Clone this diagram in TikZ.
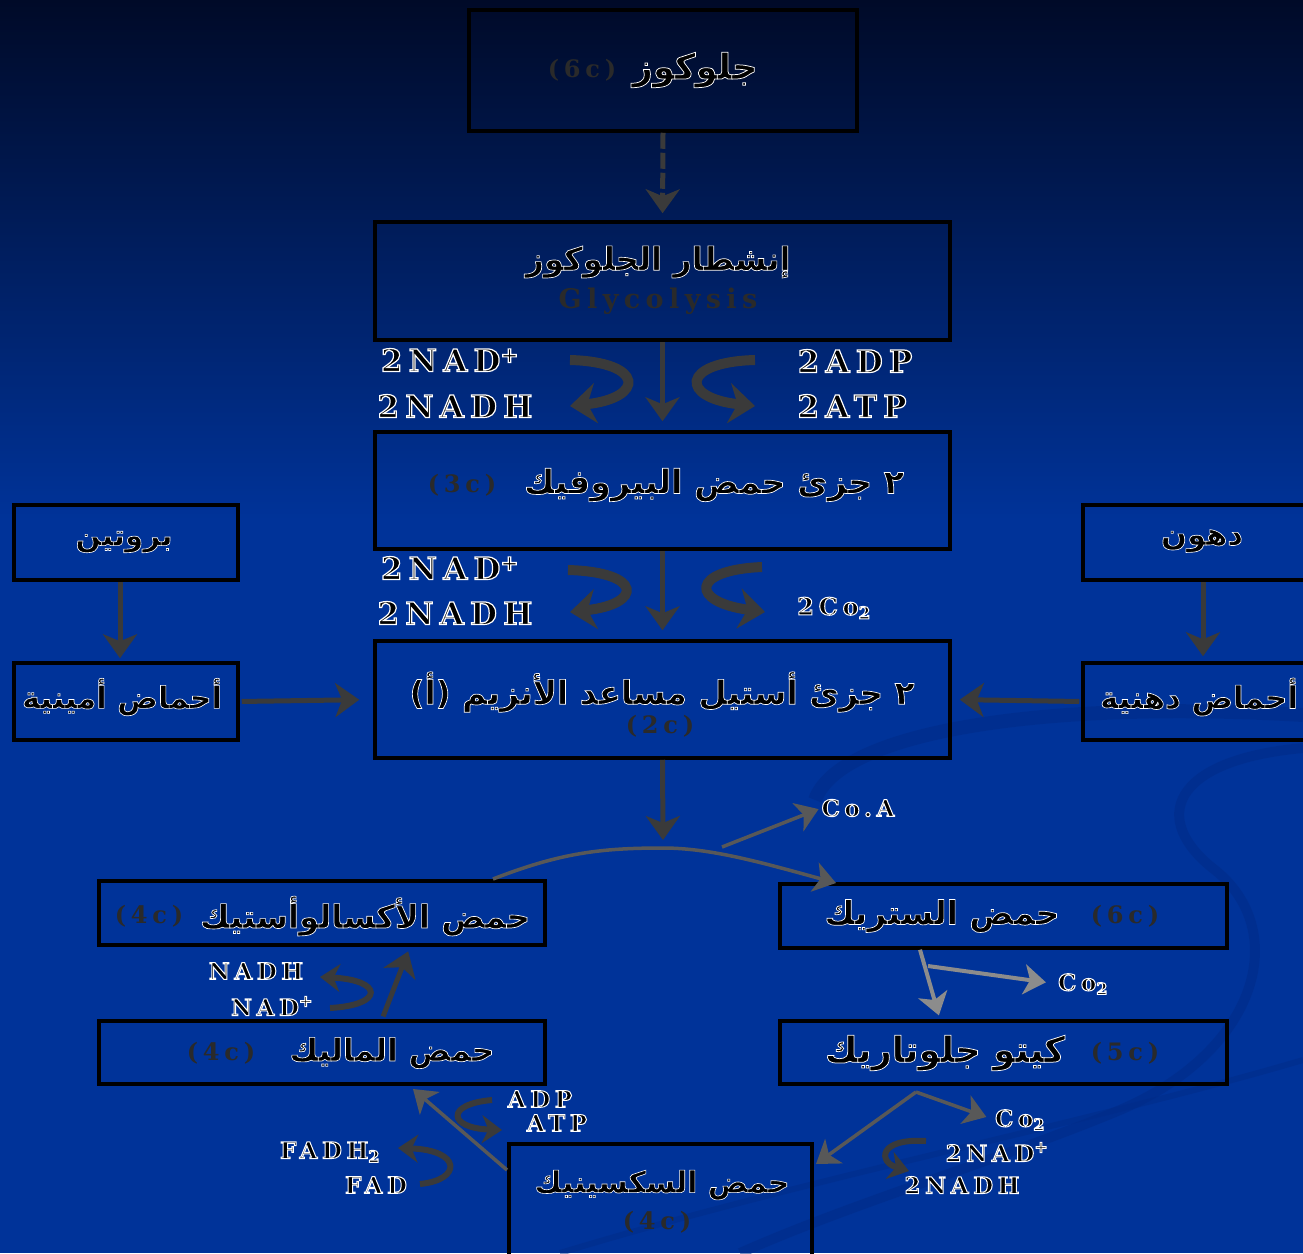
\documentclass[tikz,border=0pt]{standalone}
\usepackage{fontspec}
\usepackage{graphicx}
\usetikzlibrary{arrows.meta}
\TeXXeTstate=1
\newfontfamily\arfont[Script=Arabic]{DejaVu Sans}
\newfontfamily\latw[LetterSpace=20]{DejaVu Serif}
\definecolor{bgblue}{RGB}{0,51,153}
\definecolor{bgtop}{RGB}{0,10,40}
\definecolor{swooshc}{RGB}{0,43,135}
\definecolor{arrgray}{RGB}{58,58,58}
\definecolor{lightarr}{RGB}{140,140,140}
\definecolor{numgray}{RGB}{42,42,42}
\newcommand{\olt}[2]{\special{pdf:literal direct 2 Tr #1 w 1 1 1 RG}#2\special{pdf:literal direct 0 Tr}}
\newcommand{\artext}[2]{\resizebox{#1}{!}{\fontsize{24}{24}\selectfont\olt{0.5}{\arfont\bfseries #2}}}
\begin{document}
\begin{tikzpicture}[x=1pt,y=-1pt,
  box/.style={draw=black,line width=3.5pt,inner sep=0pt},
  conn/.style={draw=arrgray,line width=5pt,-{Stealth[width=34pt,length=24pt,inset=7pt]}},
  arcline/.style={draw=arrgray!85!white,line width=3.5pt},
  arctip/.style={arcline,-{Stealth[width=30pt,length=22pt,inset=6pt]}},
  lightconn/.style={draw=lightarr,line width=4pt,-{Stealth[width=30pt,length=22pt,inset=6pt]}},
  curvy/.style={draw=arrgray,line width=10pt,-{Stealth[width=40pt,length=26pt]}},
  smallcurvy/.style={draw=arrgray,line width=6pt,-{Stealth[width=28pt,length=20pt]}},
  lbl/.style={inner sep=0pt,text=black,font=\latw\bfseries\fontsize{31}{31}\selectfont},
  slbl/.style={inner sep=0pt,text=black,font=\latw\bfseries\fontsize{23}{23}\selectfont},
  num/.style={inner sep=0pt,text=numgray,font=\latw\bfseries\fontsize{24}{24}\selectfont},
  artx/.style={inner sep=0pt,text=black},
]
\useasboundingbox (0,0) rectangle (1303,1253);
% background
\shade[top color=bgtop,bottom color=bgblue] (0,0) rectangle (1303,520);
\fill[bgblue] (0,519) rectangle (1303,1253);
\draw[swooshc,line width=14pt,opacity=0.5] (815,800) .. controls (840,730) and (1050,700) .. (1303,715);
\draw[swooshc,line width=10pt,opacity=0.5] (1303,748) .. controls (1170,760) and (1150,820) .. (1215,870) .. controls (1290,930) and (1260,1050) .. (1120,1110) .. controls (1000,1160) and (860,1200) .. (740,1253);
\draw[swooshc,line width=6pt,opacity=0.45] (560,1253) .. controls (800,1180) and (1100,1120) .. (1303,1060);

% boxes
\node[box,minimum width=388pt,minimum height=121pt] (glc) at (663,70.5) {};
\node[box,minimum width=575pt,minimum height=118pt] (gly) at (662.5,281) {};
\node[box,minimum width=575pt,minimum height=117pt] (pyr) at (662.5,490.5) {};
\node[box,minimum width=575pt,minimum height=117pt] (acet) at (662.5,699.5) {};
\node[box,minimum width=224pt,minimum height=75pt] (prot) at (126,542.5) {};
\node[box,minimum width=224pt,minimum height=77pt] (amino) at (126,701.5) {};
\node[box,minimum width=237pt,minimum height=75pt] (fat) at (1201.5,542.5) {};
\node[box,minimum width=237pt,minimum height=77pt] (fatac) at (1201.5,701.5) {};
\node[box,minimum width=446pt,minimum height=64pt] (oxa) at (322,913) {};
\node[box,minimum width=447pt,minimum height=64pt] (cit) at (1003.5,916) {};
\node[box,minimum width=447pt,minimum height=63pt] (keto) at (1003.5,1052.5) {};
\node[box,minimum width=446pt,minimum height=63pt] (mal) at (322,1052.5) {};
\node[box,minimum width=303pt,minimum height=121pt] (suc) at (660.5,1204.5) {};

% box texts
\node[artx] (tglc) at (695,70) {\artext{125pt}{\beginR جلوكوز\endR}};
\node[num] (nglc) at (582,70) {(6c)};
\node[artx] (tgly) at (658,262) {\artext{265pt}{\beginR إنشطار الجلوكوز\endR}};
\node[num,font=\latw\bfseries\fontsize{27}{27}\selectfont] (ngly) at (658,301) {Glycolysis};
\node[artx] (tpyr) at (714,485) {\artext{380pt}{\beginR ٢ جزئ حمض البيروفيك\endR}};
\node[num] (npyr) at (462,485) {(3c)};
\node[artx] (tacet) at (662,692) {\artext{505pt}{\beginR ٢ جزئ أستيل مساعد الأنزيم \beginL(أ)\endL\endR}};
\node[num] (nacet) at (660,726) {(2c)};
\node[artx] (tprot) at (124,542) {\artext{97pt}{\beginR بروتين\endR}};
\node[artx] (tamino) at (122,697) {\artext{200pt}{\beginR أحماض أمينية\endR}};
\node[artx] (tfat) at (1202,541) {\artext{82pt}{\beginR دهون\endR}};
\node[artx] (tfatac) at (1199,697) {\artext{198pt}{\beginR أحماض دهنية\endR}};
\node[artx] (toxa) at (365,916) {\artext{330pt}{\beginR حمض الأكسالوأستيك\endR}};
\node[num] (noxa) at (149,916) {(4c)};
\node[artx] (tcit) at (942,916) {\artext{235pt}{\beginR حمض الستريك\endR}};
\node[num] (ncit) at (1125,916) {(6c)};
\node[artx] (tketo) at (945,1053) {\artext{240pt}{\beginR كيتو جلوتاريك\endR}};
\node[num] (nketo) at (1125,1053) {(5c)};
\node[artx] (tmal) at (392,1053) {\artext{205pt}{\beginR حمض الماليك\endR}};
\node[num] (nmal) at (221,1053) {(4c)};
\node[artx] (tsuc) at (662,1185) {\artext{255pt}{\beginR حمض السكسينيك\endR}};
\node[num] (nsuc) at (657,1222) {(4c)};

% labels
\node[lbl] (l1) at (450,360) {\olt{1.2}{2NAD\textsuperscript{+}}};
\node[lbl] (l2) at (455,406) {\olt{1.2}{2NADH}};
\node[lbl] (l3) at (855,361) {\olt{1.2}{2ADP}};
\node[lbl] (l4) at (852,406) {\olt{1.2}{2ATP}};
\node[lbl] (l5) at (450,568) {\olt{1.2}{2NAD\textsuperscript{+}}};
\node[lbl] (l6) at (455,613) {\olt{1.2}{2NADH}};
\node[slbl,font=\latw\bfseries\fontsize{24}{24}\selectfont] (l7) at (834,608) {\olt{1}{2Co\textsubscript{2}}};
\node[slbl] (coa) at (858,808) {\olt{1}{Co.A}};
\node[slbl] (l9) at (256,971) {\olt{1}{NADH}};
\node[slbl] (l10) at (272,1006) {\olt{1}{NAD\textsuperscript{+}}};
\node[slbl] (co2a) at (1083,984) {\olt{1}{Co\textsubscript{2}}};
\node[slbl] (l12) at (540,1099) {\olt{1}{ADP}};
\node[slbl] (l13) at (557,1123) {\olt{1}{ATP}};
\node[slbl] (l14) at (330,1152) {\olt{1}{FADH\textsubscript{2}}};
\node[slbl] (l15) at (376,1185) {\olt{1}{FAD}};
\node[slbl] (co2b) at (1020,1120) {\olt{1}{Co\textsubscript{2}}};
\node[slbl] (l17) at (997,1152) {\olt{1}{2NAD\textsuperscript{+}}};
\node[slbl] (l18) at (962,1185) {\olt{1}{2NADH}};

% main connectors
\draw[conn,dash pattern=on 16pt off 4pt] (glc.south) -- (gly.north) [shorten >=7pt];
\draw[conn] (gly.south) -- (pyr.north) [shorten >=9pt];
\draw[conn] (pyr.south) -- (acet.north) [shorten >=9pt];
\draw[conn] ([xshift=-6pt]prot.south) -- ([xshift=-6pt]amino.north) [shorten >=3pt];
\draw[conn] ([xshift=1.5pt]fat.south) -- ([xshift=1.5pt]fatac.north) [shorten >=5pt];
\draw[conn] (amino.east) -- (acet.west) [shorten >=14pt,shorten <=2pt];
\draw[conn] (fatac.west) -- (acet.east) [shorten >=8pt,shorten <=2pt];
\coordinate (jn) at (663,848);
\coordinate (jtip) at (663,840);
\draw[conn] (acet.south) -- (jtip);
% Krebs arc
\coordinate (arcL) at (493,879);
\coordinate (arcR) at (836,883);
\coordinate (coaS) at (722,847);
\draw[arcline] (arcL) .. controls (560,853) and (600,848) .. (jn);
\draw[arctip] (jn) .. controls (710,848) and (760,862) .. (arcR);
\draw[arctip] (coaS) -- (coa.west) [shorten >=3pt];
% citric -> keto
\coordinate (cb) at (928,966);
\draw[lightconn] ([xshift=-83.5pt]cit.south) -- ([xshift=-63.5pt]keto.north) [shorten >=4pt];
\draw[lightconn] (cb) -- (co2a.west) [shorten >=12pt];
% keto -> succinic
\coordinate (k0) at (916,1092);
\coordinate (sucTip) at (816,1164);
\draw[arctip] (k0) -- (sucTip);
\draw[arctip] (k0) -- (co2b.west) [shorten >=9pt];
\coordinate (kn1) at (926,1141);
\coordinate (kn2) at (909,1171);
\draw[smallcurvy] (kn1) .. controls (878,1138) and (878,1162) .. (kn2);
% succinic -> malic
\coordinate (s0) at (507,1170);
\coordinate (malTip) at (413,1089);
\draw[arctip] (s0) -- (malTip);
\coordinate (ad1) at (492,1100);
\coordinate (ad2) at (502,1130);
\draw[smallcurvy] (ad1) .. controls (445,1104) and (448,1128) .. (ad2);
\coordinate (fd1) at (420,1184);
\coordinate (fd2) at (398,1148);
\draw[smallcurvy] (fd1) .. controls (462,1180) and (462,1150) .. (fd2);
% malic -> oxaloacetic
\draw[conn] ([xshift=60pt]mal.north) -- ([xshift=88pt]oxa.south) [shorten >=5pt,shorten <=3pt];
\coordinate (nd1) at (330,1008);
\coordinate (nd2) at (320,977);
\draw[smallcurvy] (nd1) .. controls (385,1005) and (383,980) .. (nd2);
% glycolysis side curves
\coordinate (g1a) at (570,360);
\coordinate (g1b) at (570,406);
\draw[curvy] (g1a) .. controls (645,362) and (645,398) .. (g1b);
\coordinate (g2a) at (755,360);
\coordinate (g2b) at (755,406);
\draw[curvy] (g2a) .. controls (680,362) and (680,398) .. (g2b);
\coordinate (g3a) at (568,570);
\coordinate (g3b) at (570,612);
\draw[curvy] (g3a) .. controls (643,572) and (643,604) .. (g3b);
\coordinate (g4a) at (762,567);
\coordinate (g4b) at (765,612);
\draw[curvy] (g4a) .. controls (690,570) and (690,602) .. (g4b);
\end{tikzpicture}
\end{document}
